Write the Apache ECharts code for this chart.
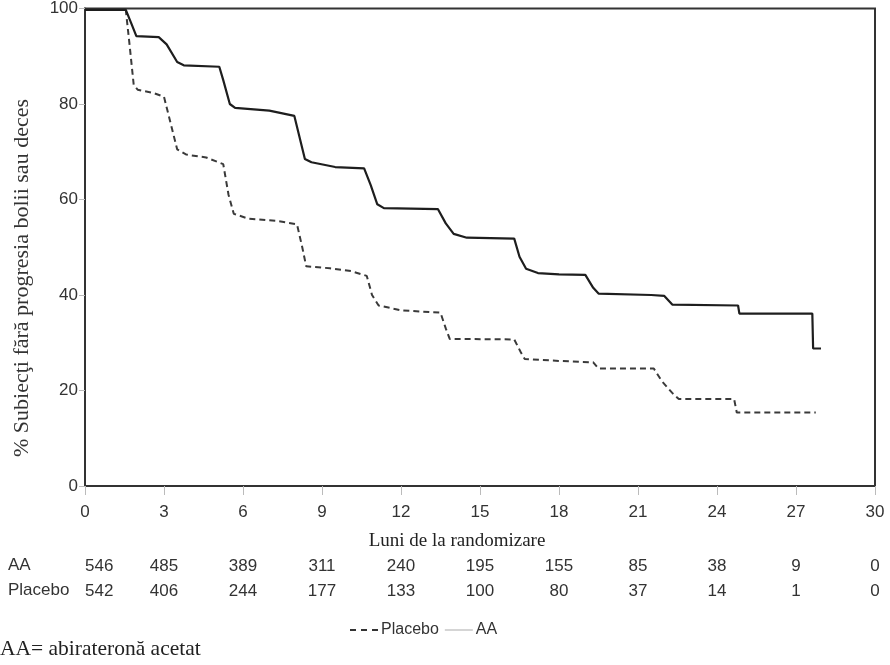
<!DOCTYPE html>
<html>
<head>
<meta charset="utf-8">
<script src="https://cdn.jsdelivr.net/npm/echarts@6/dist/echarts.min.js"></script>
<style>
  html, body { margin: 0; padding: 0; background: #fff; }
  #chart { width: 890px; height: 665px; }
</style>
</head>
<body>
<div id="chart"></div>
<script>
// Kaplan-Meier curves (months, % event free)
var aaMonths = [0, 1.55, 1.75, 1.95, 2.8, 3.1, 3.5, 3.75, 5.1, 5.25, 5.5, 5.7, 7.0, 7.95, 8.15, 8.35, 8.6, 9.5, 10.6, 10.85, 11.1, 11.35, 13.4, 13.7, 14.0, 14.5, 16.3, 16.5, 16.75, 17.2, 18.0, 19.0, 19.3, 19.5, 21.5, 22.0, 22.3, 24.8, 24.85, 27.62, 27.65, 27.95];
var aaSurv   = [99.7, 99.7, 97, 94.2, 94, 92.5, 88.8, 88.1, 87.8, 85, 80, 79.2, 78.6, 77.5, 73, 68.5, 67.8, 66.8, 66.5, 63, 59, 58.2, 58, 55, 52.8, 52, 51.8, 48, 45.5, 44.6, 44.3, 44.2, 41.5, 40.3, 40, 39.8, 38, 37.8, 36.1, 36.1, 28.8, 28.8];

var placeboMonths = [0, 1.55, 1.7, 1.85, 2.0, 2.6, 3.0, 3.25, 3.5, 3.85, 4.6, 5.25, 5.45, 5.65, 6.2, 7.3, 8.05, 8.25, 8.4, 9.3, 10.1, 10.7, 10.9, 11.15, 12.0, 13.5, 13.7, 13.85, 16.3, 16.55, 16.7, 18.0, 19.3, 19.5, 21.6, 21.9, 22.3, 22.55, 24.65, 24.75, 27.75];
var placeboSurv   = [99.7, 99.7, 92, 84, 83, 82.3, 81.5, 76, 70.5, 69.4, 68.8, 67.4, 61, 57, 56, 55.5, 54.8, 50, 46, 45.6, 45, 44, 40, 37.8, 36.8, 36.3, 33, 30.8, 30.7, 28, 26.6, 26.2, 25.9, 24.6, 24.6, 22, 19.5, 18.2, 18.2, 15.4, 15.4];

// numbers at risk
var riskTicks   = [0, 3, 6, 9, 12, 15, 18, 21, 24, 27, 30];
var aaRisk      = [546, 485, 389, 311, 240, 195, 155, 85, 38, 9, 0];
var placeboRisk = [542, 406, 244, 177, 133, 100, 80, 37, 14, 1, 0];

function pairs(xs, ys) {
  return xs.map(function (x, i) { return [x, ys[i]]; });
}
function riskLabel(list) {
  return function (v) {
    var i = riskTicks.indexOf(v);
    return i < 0 ? '' : String(list[i]);
  };
}

var sans = '"Liberation Sans", Arial, sans-serif';
var serif = '"Liberation Serif", "Times New Roman", serif';

var chart = echarts.init(document.getElementById('chart'), null, { renderer: 'canvas' });

var riskAxis = function (offset, list) {
  return {
    type: 'value', gridIndex: 0, position: 'bottom', offset: offset,
    min: 0, max: 30, interval: 3,
    axisLine: { show: false }, axisTick: { show: false }, splitLine: { show: false },
    axisLabel: {
      margin: 18, fontFamily: sans, fontSize: 17, color: '#333',
      formatter: riskLabel(list), alignMinLabel: 'left'
    }
  };
};

chart.setOption({
  backgroundColor: '#fff',
  animation: false,
  grid: {
    left: 85, right: 15, top: 6, bottom: 179,
    show: true, borderColor: '#333', borderWidth: 2, backgroundColor: 'transparent'
  },
  xAxis: [
    {
      type: 'value', min: 0, max: 30, interval: 3,
      name: 'Luni de la randomizare', nameLocation: 'middle', nameGap: 46,
      nameTextStyle: { fontFamily: serif, fontSize: 19, color: '#222', padding: [0, 46, 0, 0] },
      axisLine: { lineStyle: { color: '#333', width: 2 } },
      axisTick: { length: 9, lineStyle: { color: '#bbb' } },
      axisLabel: { margin: 18, fontFamily: sans, fontSize: 17, color: '#333' },
      splitLine: { show: false }
    },
    riskAxis(54, aaRisk),
    riskAxis(79, placeboRisk)
  ],
  yAxis: {
    type: 'value', min: 0, max: 100, interval: 20,
    axisLine: { show: true, lineStyle: { color: '#333', width: 2 } },
    axisTick: { show: true, length: 6, lineStyle: { color: '#bbb' } },
    axisLabel: { margin: 7, fontFamily: sans, fontSize: 17, color: '#333' },
    splitLine: { show: false }
  },
  legend: {
    left: 345, top: 617, itemGap: 6, itemWidth: 28, itemHeight: 2,
    textStyle: { fontFamily: sans, fontSize: 16, color: '#333', padding: [0, 0, 0, -2] },
    data: [
      { name: 'Placebo', icon: 'path://M0,0h6v2h-6zM11,0h6v2h-6zM22,0h6v2h-6z', itemStyle: { color: '#333' } },
      { name: 'AA', icon: 'path://M0,0h28v1h-28z', itemStyle: { color: '#aaa' } }
    ]
  },
  series: [
    {
      name: 'Placebo', type: 'line', symbol: 'none',
      data: pairs(placeboMonths, placeboSurv),
      lineStyle: { color: '#3a3a3a', width: 2, type: [6, 4] },
      itemStyle: { color: '#3a3a3a' }
    },
    {
      name: 'AA', type: 'line', symbol: 'none',
      data: pairs(aaMonths, aaSurv),
      lineStyle: { color: '#1e1e1e', width: 2.2 },
      itemStyle: { color: '#1e1e1e' }
    }
  ],
  graphic: [
    {
      type: 'text', x: 22, y: 278, rotation: Math.PI / 2,
      style: {
        text: '% Subiecţi fără progresia bolii sau deces',
        fontFamily: serif, fontSize: 22, fill: '#333',
        textAlign: 'center', textVerticalAlign: 'middle'
      }
    },
    {
      type: 'text', left: 8, top: 557,
      style: { text: 'AA', fontFamily: sans, fontSize: 17, fill: '#333' }
    },
    {
      type: 'text', left: 8, top: 582,
      style: { text: 'Placebo', fontFamily: sans, fontSize: 17, fill: '#333' }
    },
    {
      type: 'text', left: 0, top: 638,
      style: { text: 'AA= abirateronă acetat', fontFamily: serif, fontSize: 21.5, fill: '#222' }
    }
  ]
});
</script>
</body>
</html>
